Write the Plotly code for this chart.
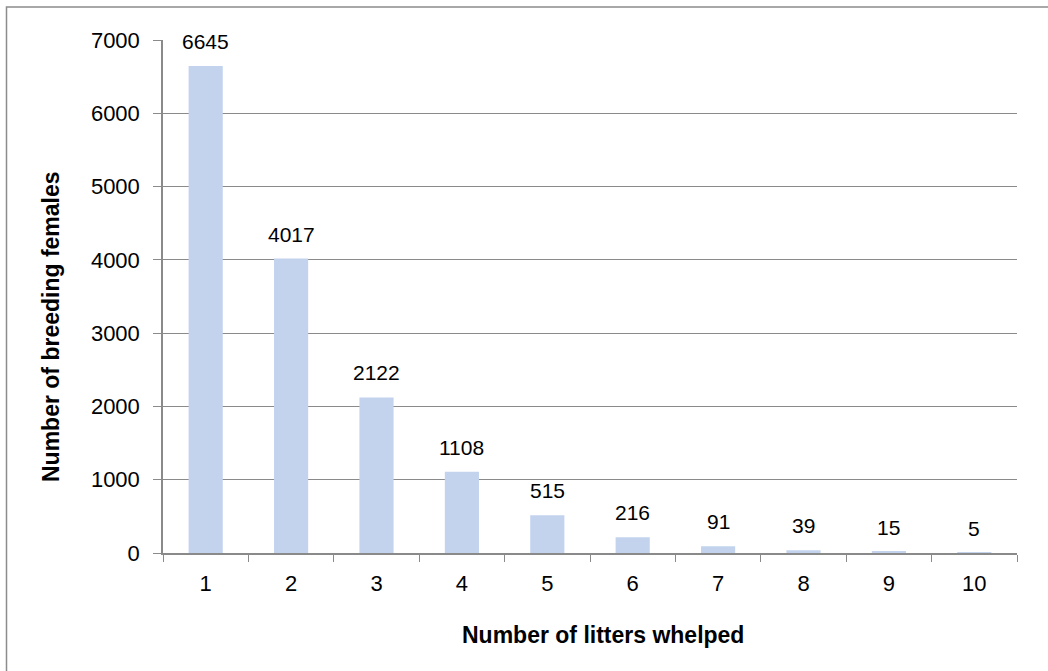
import plotly.graph_objects as go

categories = ["1", "2", "3", "4", "5", "6", "7", "8", "9", "10"]
females = [6645, 4017, 2122, 1108, 515, 216, 91, 39, 15, 5]
y_ticks = [0, 1000, 2000, 3000, 4000, 5000, 6000, 7000]

W, H = 1048, 671
L, R, T, B = 163, 31, 40, 118
pw, ph = W - L - R, H - T - B
FONT = "Arial, Liberation Sans, sans-serif"
GRID = "#8a8a8a"

fig = go.Figure()
fig.add_trace(go.Bar(x=categories, y=females, marker=dict(color="#c3d3ee", line=dict(width=0)),
                     hoverinfo="x+y"))

for i, v in enumerate(females):
    fig.add_annotation(x=i, y=v, text=str(v), showarrow=False, xref="x", yref="y",
                       yanchor="bottom", yshift=11, font=dict(family=FONT, size=21, color="#000"))

fig.add_annotation(text="<b>Number of breeding females</b>", textangle=-90, showarrow=False,
                   xref="paper", yref="paper", x=(51 - L) / pw, y=1 - (327 - T) / ph,
                   xanchor="center", yanchor="middle", font=dict(family=FONT, size=23, color="#000"))
fig.add_annotation(text="<b>Number of litters whelped</b>", showarrow=False,
                   xref="paper", yref="paper", x=(603 - L) / pw, y=1 - (635 - T) / ph,
                   xanchor="center", yanchor="middle", font=dict(family=FONT, size=23, color="#000"))

# outer chart border
fig.add_shape(type="rect", xref="paper", yref="paper",
              x0=(6.5 - L) / pw, x1=(W + 5 - L) / pw, y0=1 - (H + 5 - T) / ph, y1=1 - (7 - T) / ph,
              line=dict(color="#8c8c8c", width=1.5), fillcolor="rgba(0,0,0,0)", layer="below")

fig.update_layout(
    width=W, height=H, margin=dict(l=L, r=R, t=T, b=B),
    paper_bgcolor="white", plot_bgcolor="white",
    bargap=0.6, showlegend=False,
    font=dict(family=FONT, size=22, color="#000"),
    xaxis=dict(type="category", tickson="boundaries", ticks="outside", ticklen=7, tickcolor=GRID,
               showline=True, linecolor=GRID, linewidth=1.5, showgrid=False,
               ticklabelstandoff=10, tickfont=dict(size=22)),
    yaxis=dict(range=[0, 7000], tickvals=y_ticks, ticks="outside", ticklen=8, tickcolor=GRID,
               showline=True, linecolor=GRID, linewidth=1.5, showgrid=True, gridcolor=GRID,
               gridwidth=1.3, zeroline=False, ticklabelstandoff=9, tickfont=dict(size=22)),
)

fig.write_html("out.html", config={"displayModeBar": False},
               post_script="document.body.style.margin='0';")
